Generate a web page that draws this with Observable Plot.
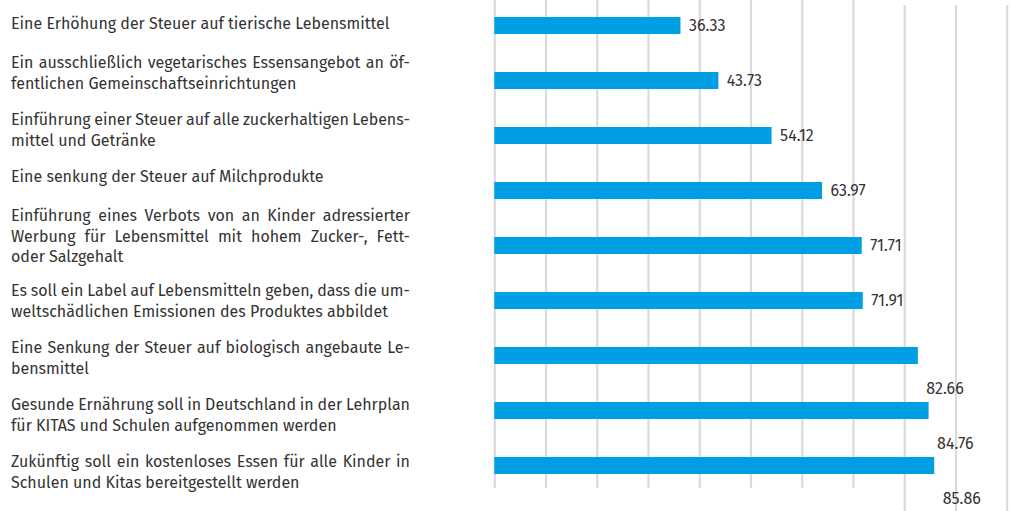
<!DOCTYPE html>
<html><head><meta charset="utf-8">
<script src="https://cdn.jsdelivr.net/npm/d3@7"></script>
<script src="https://cdn.jsdelivr.net/npm/@observablehq/plot@0.6"></script>
<style>body{margin:0;background:#fff;} svg{display:block;}</style>
</head><body><div id="chart"></div>
<script>
const categories = [
  "Eine Erhöhung der Steuer auf tierische Lebensmittel",
  "Ein ausschließlich vegetarisches Essensangebot an öffentlichen Gemeinschaftseinrichtungen",
  "Einführung einer Steuer auf alle zuckerhaltigen Lebensmittel und Getränke",
  "Eine senkung der Steuer auf Milchprodukte",
  "Einführung eines Verbots von an Kinder adressierter Werbung für Lebensmittel mit hohem Zucker-, Fett- oder Salzgehalt",
  "Es soll ein Label auf Lebensmitteln geben, dass die umweltschädlichen Emissionen des Produktes abbildet",
  "Eine Senkung der Steuer auf biologisch angebaute Lebensmittel",
  "Gesunde Ernährung soll in Deutschland in der Lehrplan für KITAS und Schulen aufgenommen werden",
  "Zukünftig soll ein kostenloses Essen für alle Kinder in Schulen und Kitas bereitgestellt werden"
];
const labelLines = [
  ["Eine Erhöhung der Steuer auf tierische Lebensmittel"],
  ["Ein ausschließlich vegetarisches Essensangebot an öf-", "fentlichen Gemeinschaftseinrichtungen"],
  ["Einführung einer Steuer auf alle zuckerhaltigen Lebens-", "mittel und Getränke"],
  ["Eine senkung der Steuer auf Milchprodukte"],
  ["Einführung eines Verbots von an Kinder adressierter", "Werbung für Lebensmittel mit hohem Zucker-, Fett-", "oder Salzgehalt"],
  ["Es soll ein Label auf Lebensmitteln geben, dass die um-", "weltschädlichen Emissionen des Produktes abbildet"],
  ["Eine Senkung der Steuer auf biologisch angebaute Le-", "bensmittel"],
  ["Gesunde Ernährung soll in Deutschland in der Lehrplan", "für KITAS und Schulen aufgenommen werden"],
  ["Zukünftig soll ein kostenloses Essen für alle Kinder in", "Schulen und Kitas bereitgestellt werden"]
];
const values = [36.33, 43.73, 54.12, 63.97, 71.71, 71.91, 82.66, 84.76, 85.86];
const ticks = [0, 10, 20, 30, 40, 50, 60, 70, 80, 90, 100];

const FONT = '"Fira Sans", "Open Sans", sans-serif';
const W = 1012, H = 511, ML = 494.3, MR = 5.3;
const textLeft = 10.5, textRight = 409.5;
const yOpts = {type: "band", domain: categories, range: [15, 474.7], paddingInner: 0.7, paddingOuter: 0, align: 0.5};
const yScale = Plot.scale({y: yOpts});
const center = c => yScale.apply(c) + (yScale.bandwidth || 0) / 2;

const rows = categories.map((c, i) => ({cat: c, value: values[i], i}));

// left label layout: stacked text blocks
const lineMarks = [];
const justify = new Set();
let base = 26;
labelLines.forEach((lines, i) => {
  lines.forEach((ln, j) => {
    if (j < lines.length - 1) justify.add(ln);
    lineMarks.push(Plot.text([categories[i]], {
      y: d => d, text: () => ln, frameAnchor: "left", textAnchor: "start", lineAnchor: "bottom",
      dx: textLeft - ML, dy: base + j * 20.5 - center(categories[i]), fill: "#333"
    }));
  });
  base += 17.7 * lines.length + 22;
});

const chart = Plot.plot({
  width: W, height: H,
  marginLeft: ML, marginRight: MR, marginTop: 0, marginBottom: 0,
  style: {fontFamily: FONT, fontSize: "16px", color: "#333", background: "#fff"},
  x: {domain: [0, 100], axis: null},
  y: {...yOpts, axis: null},
  marks: [
    Plot.ruleX(ticks.filter(t => t <= 70), {stroke: "#dadada", strokeWidth: 2.2, insetBottom: 23}),
    Plot.ruleX(ticks.filter(t => t > 70), {stroke: "#dadada", strokeWidth: 2.2, insetTop: 5}),
    Plot.barX(rows, {x: "value", y: "cat", fill: "#009fe3"}),
    Plot.text(rows.filter(d => d.i < 6), {x: "value", y: "cat", text: d => d.value.toFixed(2), dx: 8, textAnchor: "start", fill: "#333"}),
    Plot.text(rows.filter(d => d.i >= 6), {x: "value", y: "cat", text: d => d.value.toFixed(2), dx: 8, dy: 33, textAnchor: "start", fill: "#333"}),
    ...lineMarks
  ]
});
document.getElementById("chart").append(chart);
chart.querySelectorAll("text").forEach(t => {
  const s = t.textContent;
  if (justify.has(s)) {
    const len = t.getComputedTextLength();
    const n = (s.match(/ /g) || []).length;
    if (n) t.style.wordSpacing = ((textRight - textLeft - len) / n) + "px";
  }
});
</script></body></html>
